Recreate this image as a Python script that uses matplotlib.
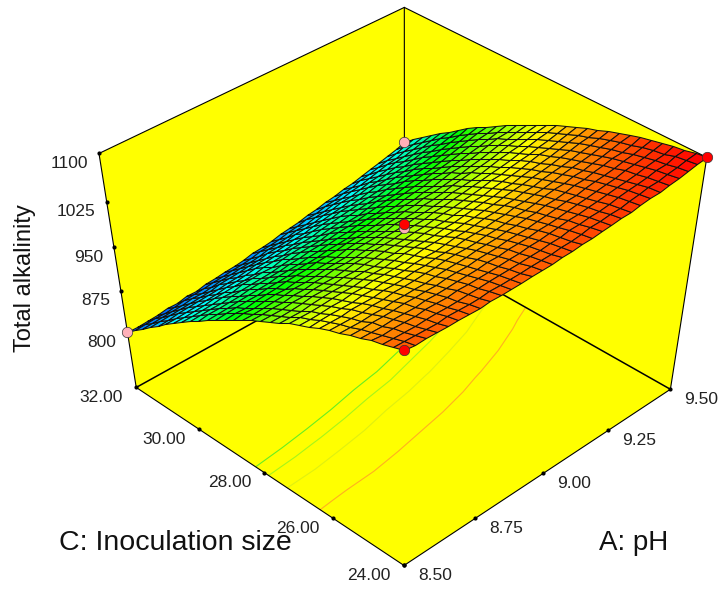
import numpy as np
import matplotlib
matplotlib.use('Agg')
import matplotlib.pyplot as plt
from matplotlib.colors import LinearSegmentedColormap, Normalize

plt.rcParams['font.family'] = ['Liberation Sans', 'DejaVu Sans']

ph_ticks = [8.50, 8.75, 9.00, 9.25, 9.50]
inoc_ticks = [24.00, 26.00, 28.00, 30.00, 32.00]
alk_ticks = [800, 875, 950, 1025, 1100]
alk_floor = 695

# design points: (pH, inoculation, alkalinity)
pink_ph = [8.5, 9.5, 9.0]
pink_inoc = [32, 32, 28]
pink_alk = [800, 877, 984]
red_ph = [8.5, 9.5, 9.0]
red_inoc = [24, 24, 28]
red_alk = [1076, 1100, 992]

contour_levels = [962, 976, 994, 1022]
contour_colors = ['#66ee22', '#a6f51a', '#e0f010', '#ffb020']

# one row per inoculation size (24 to 32), one column per pH (8.5 to 9.5)
alkalinity = [
    [1076,1075,1075,1074,1074,1073,1073,1073,1073,1073,1073,1073,1074,1074,1075,1076,1077,1078,1079,1080,1081,1083,1084,1086,1087,1089,1091,1093,1096,1098,1100],
    [1071,1070,1070,1069,1069,1069,1069,1069,1069,1069,1070,1070,1070,1071,1072,1072,1073,1074,1076,1077,1078,1080,1081,1083,1085,1087,1089,1091,1093,1095,1098],
    [1066,1065,1064,1064,1064,1064,1064,1064,1065,1065,1066,1066,1067,1067,1068,1069,1070,1071,1072,1073,1075,1076,1078,1080,1082,1084,1086,1088,1090,1093,1095],
    [1061,1060,1060,1060,1060,1060,1060,1060,1061,1061,1061,1062,1062,1063,1064,1065,1066,1067,1068,1070,1071,1073,1074,1076,1078,1080,1082,1085,1087,1089,1092],
    [1055,1054,1054,1054,1054,1054,1055,1055,1055,1056,1057,1057,1058,1059,1060,1061,1062,1063,1064,1065,1067,1069,1070,1072,1074,1076,1079,1081,1083,1086,1089],
    [1049,1049,1049,1049,1049,1050,1050,1050,1050,1051,1052,1052,1053,1054,1055,1056,1057,1058,1060,1061,1063,1065,1066,1068,1070,1072,1075,1077,1079,1082,1085],
    [1042,1042,1042,1042,1043,1043,1044,1044,1044,1045,1047,1047,1048,1049,1050,1051,1052,1053,1055,1056,1058,1060,1062,1064,1066,1068,1070,1073,1075,1078,1081],
    [1036,1036,1036,1036,1037,1037,1038,1038,1039,1040,1041,1042,1043,1044,1044,1046,1047,1048,1050,1051,1053,1055,1057,1059,1061,1063,1065,1068,1071,1073,1076],
    [1029,1030,1030,1030,1031,1031,1032,1032,1033,1034,1035,1036,1037,1038,1039,1040,1041,1043,1044,1046,1047,1049,1051,1054,1056,1058,1060,1063,1066,1068,1071],
    [1021,1022,1022,1023,1023,1024,1024,1026,1026,1027,1028,1029,1030,1031,1033,1034,1035,1037,1038,1040,1042,1044,1046,1048,1050,1052,1055,1058,1060,1063,1066],
    [1014,1015,1015,1016,1016,1017,1017,1019,1019,1020,1021,1023,1024,1025,1026,1027,1029,1030,1032,1034,1036,1038,1040,1042,1044,1047,1049,1052,1055,1057,1060],
    [1007,1007,1007,1008,1009,1010,1010,1012,1012,1013,1014,1016,1017,1018,1019,1021,1022,1024,1025,1027,1029,1031,1033,1036,1038,1040,1043,1046,1049,1052,1055],
    [998,998,998,999,1001,1001,1002,1003,1005,1005,1006,1008,1010,1011,1012,1013,1015,1016,1018,1020,1022,1024,1027,1029,1031,1034,1037,1039,1042,1045,1048],
    [989,990,990,991,993,993,994,995,997,998,999,1001,1002,1003,1005,1006,1008,1009,1011,1013,1015,1017,1020,1022,1024,1027,1030,1033,1036,1039,1042],
    [981,981,981,983,984,985,986,987,989,990,991,993,994,996,997,998,1000,1002,1004,1006,1008,1010,1012,1015,1017,1020,1023,1026,1029,1032,1035],
    [972,973,973,974,975,976,977,978,980,981,982,984,986,987,988,990,992,993,995,997,1000,1002,1004,1007,1009,1012,1015,1018,1021,1024,1028],
    [962,963,963,965,966,967,968,969,971,972,973,976,977,979,980,982,983,985,987,989,992,994,996,999,1001,1004,1007,1010,1013,1016,1020],
    [952,954,954,955,957,957,959,960,962,963,964,967,968,969,971,973,975,977,979,981,983,985,988,990,993,996,999,1002,1005,1008,1012],
    [942,944,944,946,947,948,950,951,953,954,955,957,959,960,962,963,965,967,970,972,974,976,979,982,984,987,990,994,997,1000,1004],
    [933,934,935,936,937,938,939,941,942,944,945,947,949,950,952,954,956,958,960,962,965,967,970,972,975,978,981,985,988,991,995],
    [922,924,924,926,926,928,929,931,932,933,935,937,939,940,942,944,946,948,950,953,955,958,960,963,966,969,972,976,979,982,986],
    [911,913,913,915,915,917,918,920,921,923,924,927,928,930,932,934,936,938,940,943,945,948,951,953,956,959,963,966,969,973,976],
    [901,902,903,903,905,906,908,909,910,912,914,916,917,919,921,923,925,927,930,932,935,938,941,943,946,949,953,956,960,963,967],
    [889,890,891,892,894,894,897,898,899,900,903,905,906,908,910,912,914,917,919,921,924,927,930,933,936,939,943,946,950,953,957],
    [877,878,879,880,882,883,885,886,887,889,891,893,895,897,899,901,903,906,908,910,913,916,919,922,925,928,932,935,939,942,946],
    [865,866,868,868,869,871,873,874,875,878,879,881,883,885,887,889,892,894,897,899,902,905,908,911,914,917,921,924,928,932,935],
    [852,853,855,856,857,859,860,862,863,865,867,869,871,873,875,877,880,882,885,887,890,893,896,899,902,906,909,913,917,920,924],
    [840,841,842,844,845,846,847,849,851,853,854,856,858,860,862,865,868,870,873,875,878,881,884,888,891,894,898,901,905,909,913],
    [826,827,828,830,831,833,834,835,838,840,841,843,845,848,850,852,855,857,860,863,866,869,872,875,878,882,886,889,893,897,901],
    [814,815,816,817,818,820,821,823,825,826,828,830,832,835,837,839,842,844,847,850,853,856,859,862,866,869,873,877,881,885,889],
    [800,801,802,803,805,806,808,809,811,813,814,816,819,821,823,826,829,831,834,837,840,843,846,850,853,857,860,864,868,872,876],
]

# where the box corners land in the picture, (u, v, w) -> pixel
camera_corners = {
    (0, 0, 0): (403, 567), (1, 0, 0): (671, 387), (0, 1, 0): (137, 387), (1, 1, 0): (404, 240),
    (0, 0, 1): (404, 333), (1, 0, 1): (707, 160), (0, 1, 1): (99, 154), (1, 1, 1): (404, 6),
}


def fit_camera(corners):
    """Perspective matrix of the box, least squares on the corners."""
    rows = []
    for (u, v, w), (x, y) in corners.items():
        rows.append([u, v, w, 1, 0, 0, 0, 0, -x*u, -x*v, -x*w, -x])
        rows.append([0, 0, 0, 0, u, v, w, 1, -y*u, -y*v, -y*w, -y])
    return np.linalg.svd(np.array(rows, dtype=float))[2][-1].reshape(3, 4)


cam = fit_camera(camera_corners)


def proj(ph, inoc, alk):
    """pH, inoculation, alkalinity -> picture x, y."""
    ph, inoc, alk = np.broadcast_arrays(np.asarray(ph, float), np.asarray(inoc, float), np.asarray(alk, float))
    u = (ph - ph_ticks[0]) / (ph_ticks[-1] - ph_ticks[0])
    v = (inoc - inoc_ticks[0]) / (inoc_ticks[-1] - inoc_ticks[0])
    w = (alk - alk_floor) / (alk_ticks[-1] - alk_floor)
    p = cam @ np.stack([u, v, w, np.ones_like(u)]).reshape(4, -1)
    return (p[0] / p[2]).reshape(u.shape), (p[1] / p[2]).reshape(u.shape)


def box_line(ax, p0, p1, lw=0.8, zorder=2):
    x, y = proj(*zip(p0, p1))
    ax.plot(x, y, color='black', lw=lw, zorder=zorder, solid_capstyle='round')


fig = plt.figure(figsize=(7.22, 5.9), dpi=100)
ax = fig.add_axes([0, 0, 1, 1])
ax.set_xlim(0, 722)
ax.set_ylim(590, 0)
ax.axis('off')

a0, a1 = ph_ticks[0], ph_ticks[-1]
c0, c1 = inoc_ticks[0], inoc_ticks[-1]
z0, z1 = alk_floor, alk_ticks[-1]

# floor and back walls
for a_s, c_s, z_s in [([a0, a1, a1, a0], [c0, c0, c1, c1], [z0]*4),
                      ([a0, a1, a1, a0], [c1, c1, c1, c1], [z0, z0, z1, z1]),
                      ([a1, a1, a1, a1], [c0, c1, c1, c0], [z0, z0, z1, z1])]:
    x, y = proj(a_s, c_s, z_s)
    ax.fill(x, y, color='#ffff00', lw=0, zorder=1)

ph_grid, inoc_grid = np.meshgrid(np.linspace(a0, a1, 31), np.linspace(c0, c1, 31))
z_grid = np.array(alkalinity, dtype=float)

# contours on the floor, every third grid line is enough
fx, fy = proj(ph_grid, inoc_grid, z0)
ax.contour(fx[::3, ::3], fy[::3, ::3], z_grid[::3, ::3], levels=contour_levels, colors=contour_colors,
           linewidths=0.8, zorder=1.5)

for p0, p1 in [((a0, c1, z0), (a1, c1, z0)), ((a1, c0, z0), (a1, c1, z0))]:
    box_line(ax, p0, p1, lw=1.1)
for p0, p1 in [((a0, c0, z0), (a0, c1, z0)), ((a0, c0, z0), (a1, c0, z0)),
               ((a0, c1, z0), (a0, c1, z1)), ((a1, c0, z0), (a1, c0, z1)), ((a1, c1, z0), (a1, c1, z1)),
               ((a0, c1, z1), (a1, c1, z1)), ((a1, c0, z1), (a1, c1, z1))]:
    box_line(ax, p0, p1)

# surface
cmap = LinearSegmentedColormap.from_list('dx', ['#0050ff', '#00ffff', '#00ff00', '#ffff00', '#ff0000'])
sx, sy = proj(ph_grid, inoc_grid, z_grid)
cell = (z_grid[:-1, :-1] + z_grid[1:, :-1] + z_grid[:-1, 1:] + z_grid[1:, 1:]) / 4
ax.pcolormesh(sx[::-1], sy[::-1], cell[::-1], cmap=cmap, norm=Normalize(alk_ticks[0], alk_ticks[-1]),
              edgecolors='#111111', linewidth=0.75, antialiased=True, shading='flat', zorder=3)

# design points
x, y = proj(pink_ph, pink_inoc, pink_alk)
ax.plot(x, y, 'o', color='#ffb0b8', mec='#333333', mew=0.5, ms=7.5, zorder=4, ls='none')
x, y = proj(red_ph, red_inoc, red_alk)
ax.plot(x, y, 'o', color='#ff0000', mec='#333333', mew=0.5, ms=7.5, zorder=5, ls='none')

# ticks and labels
x, y = proj(ph_ticks, c0, z0)
ax.plot(x, y, 'o', color='black', ms=2, zorder=2.5)
for xi, yi, t in zip(x, y, ph_ticks):
    ax.text(xi + 31, yi + 10, f'{t:.2f}', ha='center', va='center', fontsize=12.5, color='#222222', zorder=6)
x, y = proj(a0, inoc_ticks, z0)
ax.plot(x, y, 'o', color='black', ms=2, zorder=2.5)
for xi, yi, t in zip(x, y, inoc_ticks):
    ax.text(xi - 35, yi + 10, f'{t:.2f}', ha='center', va='center', fontsize=12.5, color='#222222', zorder=6)
x, y = proj(a0, c1, alk_ticks)
ax.plot(x, y, 'o', color='black', ms=2, zorder=2.5)
for xi, yi, t in zip(x, y, alk_ticks):
    ax.text(xi - 11, yi + 10, str(t), ha='right', va='center', fontsize=12.5, color='#222222', zorder=6)

ax.text(175, 543, 'C: Inoculation size', ha='center', va='center', fontsize=20.5, color='#111111', zorder=6)
ax.text(634, 543, 'A: pH', ha='center', va='center', fontsize=20, color='#111111', zorder=6)
ax.text(25, 278, 'Total alkalinity', ha='center', va='center', rotation=90, fontsize=17, color='#111111', zorder=6)

fig.savefig('out.png', dpi=100)
